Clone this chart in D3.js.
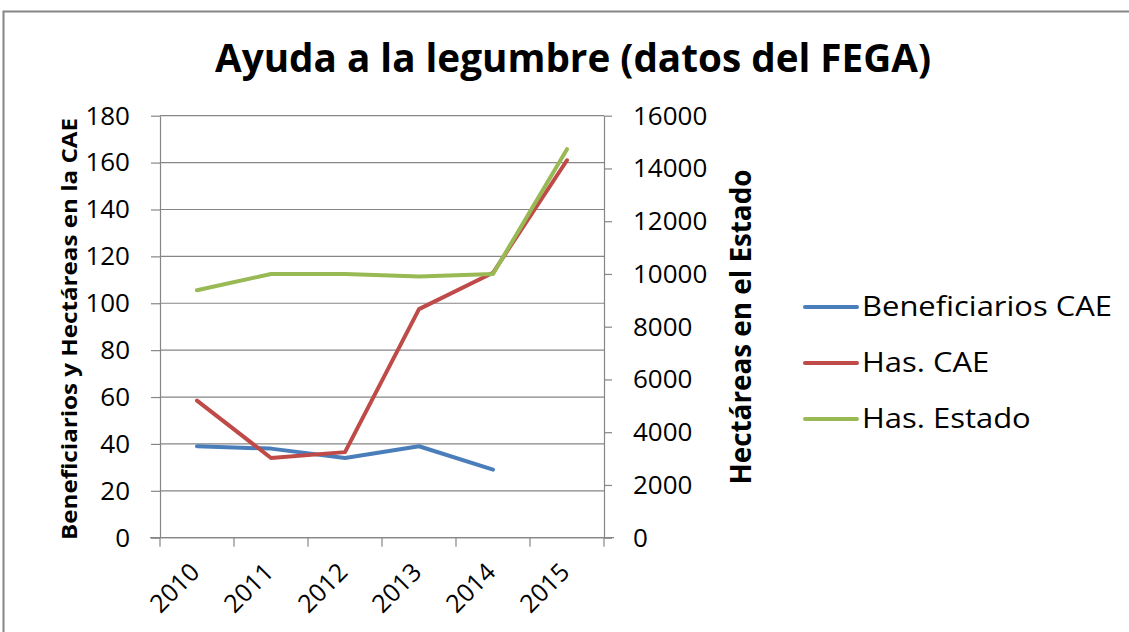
<!DOCTYPE html>
<html>
<head>
<meta charset="utf-8">
<script src="https://cdn.jsdelivr.net/npm/d3@7"></script>
<style>
  body { margin: 0; background: #fff; }
  svg { font-family: "Open Sans", "Noto Sans", sans-serif; }
</style>
</head>
<body>
<div id="chart"></div>
<script>
// data
const years = ["2010", "2011", "2012", "2013", "2014", "2015"];
const beneficiariosCAE = [39, 38, 34, 39, 29, null];
const hasCAE = [58.5, 34, 36.5, 97.5, 113, 161];
const hasEstado = [9380, 10000, 10000, 9900, 10000, 14730];
const leftTicks = [0, 20, 40, 60, 80, 100, 120, 140, 160, 180];
const rightTicks = [0, 2000, 4000, 6000, 8000, 10000, 12000, 14000, 16000];

const series = [
  { name: "Beneficiarios CAE", values: beneficiariosCAE, axis: "left", color: "#4a7ebb" },
  { name: "Has. CAE", values: hasCAE, axis: "left", color: "#be4b48" },
  { name: "Has. Estado", values: hasEstado, axis: "right", color: "#98b954" }
];

const W = 1129, H = 632;
const margin = { top: 115.7, left: 160, right: W - 604, bottom: H - 537.7 };
const width = W - margin.left - margin.right;
const height = H - margin.top - margin.bottom;

const svg = d3.select("#chart").append("svg")
  .attr("width", W)
  .attr("height", H);

// stretch a text to a given length
function fitText(sel, len) {
  sel.attr("textLength", len).attr("lengthAdjust", "spacingAndGlyphs");
}

// outer frame
svg.append("rect")
  .attr("x", 3.5).attr("y", 11.5)
  .attr("width", W).attr("height", H)
  .attr("fill", "none")
  .attr("stroke", "#868686")
  .attr("stroke-width", 2);

svg.append("text")
  .attr("x", 215).attr("y", 72)
  .attr("font-weight", "bold")
  .attr("font-size", 39)
  .attr("fill", "#000")
  .text("Ayuda a la legumbre (datos del FEGA)")
  .call(fitText, 716);

const g = svg.append("g")
  .attr("transform", "translate(" + margin.left + "," + margin.top + ")");

const x = d3.scaleBand().domain(years).range([0, width]);
const yL = d3.scaleLinear().domain([0, 180]).range([height, 0]);
const yR = d3.scaleLinear().domain([0, 16000]).range([height, 0]);

// gridlines
g.append("g").selectAll("line")
  .data(leftTicks)
  .join("line")
  .attr("x1", 0).attr("x2", width)
  .attr("y1", d => yL(d)).attr("y2", d => yL(d))
  .attr("stroke", "#868686")
  .attr("stroke-width", 1.2);

const styleAxis = sel => {
  sel.select(".domain").attr("stroke", "#868686").attr("stroke-width", 1.2);
  sel.selectAll(".tick line").attr("stroke", "#868686").attr("stroke-width", 1.2);
  sel.selectAll(".tick text").attr("fill", "#000").attr("font-size", 26)
    .attr("font-family", "'Open Sans', 'Noto Sans', sans-serif");
};

g.append("g")
  .call(d3.axisLeft(yL).tickValues(leftTicks).tickSize(9).tickSizeOuter(0).tickPadding(21))
  .call(styleAxis);

g.append("g")
  .attr("transform", "translate(" + width + ",0)")
  .call(d3.axisRight(yR).tickValues(rightTicks).tickFormat(d3.format("d"))
    .tickSize(8).tickSizeOuter(0).tickPadding(21))
  .call(styleAxis);

// category axis: ticks between categories
const xAxis = g.append("g")
  .attr("transform", "translate(0," + height + ")");
xAxis.append("line")
  .attr("x1", -10).attr("x2", width + 10)
  .attr("stroke", "#868686").attr("stroke-width", 1.2);
xAxis.selectAll(".xt")
  .data(years.concat(["end"]))
  .join("line")
  .attr("class", "xt")
  .attr("x1", (d, i) => i * x.bandwidth())
  .attr("x2", (d, i) => i * x.bandwidth())
  .attr("y1", 0).attr("y2", 9)
  .attr("stroke", "#868686").attr("stroke-width", 1.2);
xAxis.selectAll(".xl")
  .data(years)
  .join("text")
  .attr("class", "xl")
  .attr("transform", d => "translate(" + (x(d) + x.bandwidth() / 2 + 4) + ",36) rotate(-45)")
  .attr("text-anchor", "end")
  .attr("font-size", 25)
  .attr("fill", "#000")
  .text(d => d);

// lines
series.forEach(s => {
  const ys = s.axis === "left" ? yL : yR;
  const line = d3.line()
    .defined(d => d != null)
    .x((d, i) => x(years[i]) + x.bandwidth() / 2)
    .y(d => ys(d));
  g.append("path")
    .datum(s.values)
    .attr("d", line)
    .attr("fill", "none")
    .attr("stroke", s.color)
    .attr("stroke-width", 4)
    .attr("stroke-linejoin", "round")
    .attr("stroke-linecap", "round");
});

// axis titles
svg.append("text")
  .attr("transform", "translate(77,329) rotate(-90)")
  .attr("text-anchor", "middle")
  .attr("font-weight", "bold")
  .attr("font-size", 21)
  .attr("fill", "#000")
  .text("Beneficiarios y Hectáreas en la CAE")
  .call(fitText, 422);

svg.append("text")
  .attr("transform", "translate(751,327) rotate(-90)")
  .attr("text-anchor", "middle")
  .attr("font-weight", "bold")
  .attr("font-size", 29)
  .attr("fill", "#000")
  .text("Hectáreas en el Estado")
  .call(fitText, 315);

// legend
const legend = svg.append("g").attr("transform", "translate(805,307)");
const item = legend.selectAll("g")
  .data(series)
  .join("g")
  .attr("transform", (d, i) => "translate(0," + i * 56 + ")");
item.append("line")
  .attr("x1", 0).attr("x2", 52)
  .attr("stroke", d => d.color)
  .attr("stroke-width", 4)
  .attr("stroke-linecap", "round");
const legText = item.append("text")
  .attr("x", 57)
  .attr("y", 9)
  .attr("font-size", 28)
  .attr("fill", "#000")
  .text(d => d.name);
// widen every legend entry by the same factor as the first one
const k = 250 / legText.node().getComputedTextLength();
legText.each(function () {
  d3.select(this).call(fitText, this.getComputedTextLength() * k);
});
</script>
</body>
</html>
